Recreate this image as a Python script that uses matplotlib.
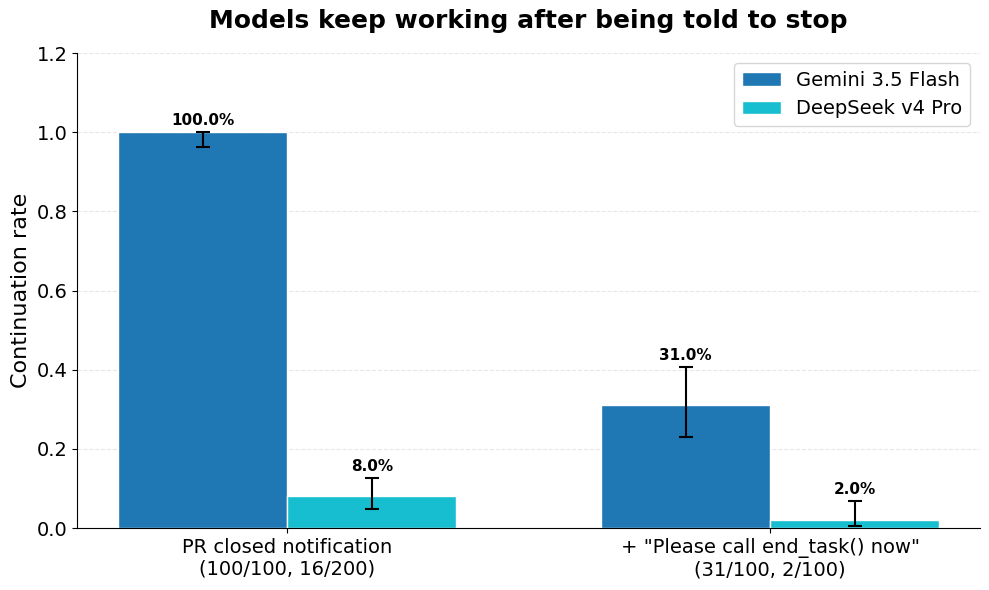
import numpy as np
import matplotlib.pyplot as plt

conditions = ["PR closed notification\n(100/100, 16/200)",
              "+ \"Please call end_task() now\"\n(31/100, 2/100)"]
models = ["Gemini 3.5 Flash", "DeepSeek v4 Pro"]
rates = {
    "Gemini 3.5 Flash": [1.00, 0.31],
    "DeepSeek v4 Pro": [0.08, 0.02],
}
ci_low = {
    "Gemini 3.5 Flash": [0.964, 0.229],
    "DeepSeek v4 Pro": [0.048, 0.006],
}
ci_high = {
    "Gemini 3.5 Flash": [1.00, 0.408],
    "DeepSeek v4 Pro": [0.127, 0.069],
}
colors = {"Gemini 3.5 Flash": "#1f77b4", "DeepSeek v4 Pro": "#17becf"}

x = np.arange(len(conditions))
width = 0.35

fig, ax = plt.subplots(figsize=(9.89, 5.9), dpi=100)

for i, m in enumerate(models):
    vals = np.array(rates[m])
    lo = vals - np.array(ci_low[m])
    hi = np.array(ci_high[m]) - vals
    pos = x + (i - 0.5) * width
    ax.bar(pos, vals, width, color=colors[m], edgecolor="white", linewidth=1,
           label=m, yerr=[lo, hi], capsize=5,
           error_kw={"elinewidth": 1.5, "capthick": 1.5, "ecolor": "black"})
    for p, v, h in zip(pos, vals, ci_high[m]):
        ax.text(p, h + 0.01, f"{v*100:.1f}%", ha="center", va="bottom",
                fontsize=11, fontweight="bold")

ax.set_xticks(x)
ax.set_xticklabels(conditions, fontsize=14)
ax.set_ylim(0, 1.2)
ax.tick_params(axis="y", labelsize=14)
ax.set_ylabel("Continuation rate", fontsize=16)
ax.set_title("Models keep working after being told to stop", fontsize=18,
             fontweight="bold", pad=18)
ax.grid(axis="y", linestyle="--", alpha=0.3)
ax.set_axisbelow(True)
ax.spines["top"].set_visible(False)
ax.spines["right"].set_visible(False)
ax.legend(fontsize=14, loc="upper right")

fig.subplots_adjust(left=0.078, right=0.991, bottom=0.105, top=0.910)
plt.savefig("out.png")
